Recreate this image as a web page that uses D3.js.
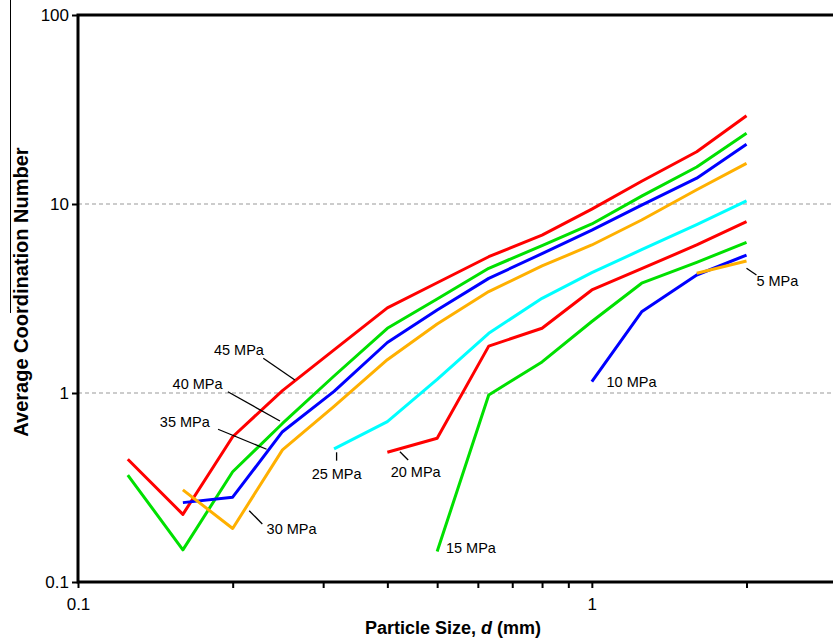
<!DOCTYPE html>
<html>
<head>
<meta charset="utf-8">
<script src="https://cdn.jsdelivr.net/npm/d3@7"></script>
<style>
body { margin: 0; background: #fff; }
text { font-family: "Liberation Sans", Arial, sans-serif; }
</style>
</head>
<body>
<svg id="chart"></svg>
<script>
let width = 833;
let height = 642;

// particle sizes (mm)
let sizes = [0.125, 0.16, 0.2, 0.25, 0.315, 0.4, 0.5, 0.63, 0.8, 1.0, 1.25, 1.6, 2.0];

// average coordination number per stress level
let mpa45 = [0.446, 0.228, 0.587, 1.03, 1.69, 2.82, 3.83, 5.26, 6.85, 9.4, 13.2, 18.9, 29.3];
let mpa40 = [0.368, 0.148, 0.383, 0.69, 1.23, 2.2, 3.14, 4.57, 6.02, 7.84, 11.0, 15.7, 23.7];
let mpa35 = [null, 0.263, 0.281, 0.624, 1.02, 1.85, 2.75, 4.04, 5.46, 7.27, 9.86, 13.7, 20.7];
let mpa30 = [null, 0.307, 0.192, 0.50, 0.85, 1.5, 2.32, 3.44, 4.7, 6.07, 8.23, 11.9, 16.4];
let mpa25 = [null, null, null, null, 0.506, 0.705, 1.18, 2.07, 3.17, 4.33, 5.73, 7.77, 10.4];
let mpa20 = [null, null, null, null, null, 0.486, 0.576, 1.77, 2.2, 3.51, 4.55, 6.07, 8.06];
let mpa15 = [null, null, null, null, null, null, 0.145, 0.976, 1.46, 2.39, 3.81, 4.91, 6.27];
let mpa10 = [null, null, null, null, null, null, null, null, null, 1.15, 2.69, 4.21, 5.37];
let mpa5 = [null, null, null, null, null, null, null, null, null, null, null, 4.3, 4.99];

let series = [
    {name: '45 MPa', values: mpa45, color: '#ff0000'},
    {name: '40 MPa', values: mpa40, color: '#00e000'},
    {name: '35 MPa', values: mpa35, color: '#0000ff'},
    {name: '30 MPa', values: mpa30, color: '#ffb000'},
    {name: '25 MPa', values: mpa25, color: '#00ffff'},
    {name: '20 MPa', values: mpa20, color: '#ff0000'},
    {name: '15 MPa', values: mpa15, color: '#00e000'},
    {name: '10 MPa', values: mpa10, color: '#0000ff'},
    {name: '5 MPa', values: mpa5, color: '#ffb000'}
];

let xTicks = [0.1, 0.2, 0.3, 0.4, 0.5, 0.6, 0.7, 0.8, 0.9, 1, 2];
let xLabels = [0.1, 1];
let yTicks = [0.1, 1, 10, 100];
let gridValues = [1, 10];

// label text position (data coords, left edge / middle) and optional leader [from, to]
let labels = [
    {text: '45 MPa', at: [0.1839, 1.689], leader: [[0.2294, 1.526], [0.2643, 1.172]]},
    {text: '40 MPa', at: [0.1528, 1.116], leader: [[0.1957, 1.016], [0.2472, 0.711]]},
    {text: '35 MPa', at: [0.1443, 0.705], leader: [[0.1873, 0.643], [0.2328, 0.504]]},
    {text: '30 MPa', at: [0.2328, 0.190], leader: [[0.2154, 0.2384], [0.2284, 0.2027]]},
    {text: '25 MPa', at: [0.2849, 0.3727], leader: [[0.3186, 0.4856], [0.3186, 0.4384]]},
    {text: '20 MPa', at: [0.406, 0.3835], leader: [[0.4232, 0.4892], [0.4391, 0.4419]]},
    {text: '15 MPa', at: [0.52, 0.1508], leader: null},
    {text: '10 MPa', at: [1.068, 1.148], leader: null},
    {text: '5 MPa', at: [2.091, 3.913], leader: [[2.0, 4.568], [2.091, 4.211]]}
];

let svg = d3.select('#chart')
    .attr('width', width)
    .attr('height', height);

let xScale = d3.scaleLog().domain([0.1, 3]).range([78, 837]);
let yScale = d3.scaleLog().domain([0.1, 100]).range([582, 15]);

/* dashed gridlines */
svg.selectAll('.grid')
    .data(gridValues)
    .enter()
    .append('line')
    .attr('class', 'grid')
    .attr('x1', xScale(0.1))
    .attr('x2', width)
    .attr('y1', (d) => yScale(d))
    .attr('y2', (d) => yScale(d))
    .attr('stroke', '#999')
    .attr('stroke-width', 1)
    .attr('stroke-dasharray', '4,3');

/* data lines */
let line = d3.line()
    .defined((d) => d[1] != null)
    .x((d) => xScale(d[0]))
    .y((d) => yScale(d[1]));

series.forEach((s) => {
    let pts = sizes.map((sz, i) => [sz, s.values[i]]);
    svg.append('path')
        .attr('d', line(pts))
        .attr('fill', 'none')
        .attr('stroke', s.color)
        .attr('stroke-width', 3)
        .attr('stroke-linejoin', 'round');
});

/* axes */
let xAxis = d3.axisBottom(xScale)
    .tickValues(xTicks)
    .tickSize(6)
    .tickFormat((d) => xLabels.includes(d) ? String(d) : '');
let yAxis = d3.axisLeft(yScale)
    .tickValues(yTicks)
    .tickSize(6)
    .tickFormat((d) => String(d));

let gx = svg.append('g')
    .attr('id', 'x-axis')
    .attr('transform', 'translate(0, ' + yScale(0.1) + ')')
    .call(xAxis);
let gy = svg.append('g')
    .attr('id', 'y-axis')
    .attr('transform', 'translate(' + xScale(0.1) + ', 0)')
    .call(yAxis);

[gx, gy].forEach((g) => {
    g.select('.domain').remove();
    g.selectAll('line').attr('stroke', '#000').attr('stroke-width', 2);
    g.selectAll('text')
        .attr('fill', '#000')
        .style('font-size', '17px');
});
gx.selectAll('text').attr('dy', '1.1em');
gy.selectAll('text').attr('dy', '0.35em').attr('x', -9);

/* frame: left, bottom and top borders */
let x0 = xScale(0.1);
let y0 = yScale(0.1);
let yTop = yScale(100);
svg.append('path')
    .attr('d', 'M' + width + ',' + yTop + 'H' + x0 + 'V' + y0 + 'H' + width)
    .attr('fill', 'none')
    .attr('stroke', '#000')
    .attr('stroke-width', 3);

/* series labels */
labels.forEach((l) => {
    svg.append('text')
        .attr('x', xScale(l.at[0]))
        .attr('y', yScale(l.at[1]))
        .attr('dy', '0.35em')
        .style('font-size', '14.5px')
        .attr('fill', '#000')
        .text(l.text);
    if (l.leader) {
        svg.append('line')
            .attr('x1', xScale(l.leader[0][0]))
            .attr('y1', yScale(l.leader[0][1]))
            .attr('x2', xScale(l.leader[1][0]))
            .attr('y2', yScale(l.leader[1][1]))
            .attr('stroke', '#000')
            .attr('stroke-width', 1.3);
    }
});

/* axis titles */
let xTitle = svg.append('text')
    .attr('x', 453)
    .attr('y', 634)
    .attr('text-anchor', 'middle')
    .style('font-size', '18px')
    .style('font-weight', 'bold');
xTitle.append('tspan').text('Particle Size, ');
xTitle.append('tspan').style('font-style', 'italic').text('d');
xTitle.append('tspan').text(' (mm)');

svg.append('text')
    .attr('transform', 'translate(28, 292) rotate(-90)')
    .attr('text-anchor', 'middle')
    .style('font-size', '20px')
    .style('font-weight', 'bold')
    .text('Average Coordination Number');

// thin stray rule beside the y title, as in the source image
svg.append('line')
    .attr('x1', 10.5).attr('x2', 10.5)
    .attr('y1', 0).attr('y2', 313)
    .attr('stroke', '#000')
    .attr('stroke-width', 1);
</script>
</body>
</html>
